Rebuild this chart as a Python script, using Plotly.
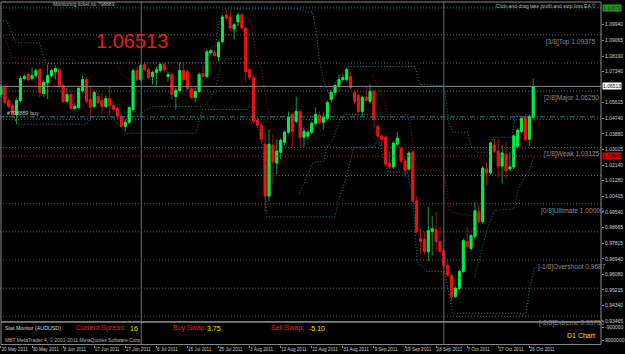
import plotly.graph_objects as go

# ---------------- data (AUDUSD daily) ----------------
opens = [1.0606,1.0645,1.0573,1.0545,1.0496,1.0573,1.0695,1.0717,1.0695,1.0711,
         1.0744,1.0612,1.0673,1.0711,1.0733,1.0744,1.0656,1.0568,1.0606,1.0529,
         1.0534,1.0628,1.0689,1.0579,1.0540,1.0595,1.0573,1.0540,1.0584,1.0545,
         1.0529,1.0485,1.0430,1.0452,1.0523,1.0739,1.0689,1.0772,1.0744,1.0706,
         1.0728,1.0739,1.0772,1.0706,1.0717,1.0595,1.0628,1.0739,1.0733,1.0640,
         1.0590,1.0623,1.0722,1.0706,1.0838,1.0838,1.0816,1.0899,1.1048,1.1037,
         1.0971,1.1009,1.1048,1.0976,1.0744,1.0700,1.0463,1.0435,1.0330,1.0043,
         1.0325,1.0226,1.0286,1.0341,1.0397,1.0496,1.0457,1.0512,1.0369,1.0375,
         1.0397,1.0446,1.0490,1.0452,1.0474,1.0579,1.0617,1.0656,1.0689,1.0689,
         1.0706,1.0617,1.0601,1.0512,1.0590,1.0568,1.0623,1.0430,1.0375,1.0369,
         1.0226,1.0204,1.0330,1.0308,1.0237,1.0193,1.0286,1.0016,0.9806,0.9801,
         0.9734,0.9845,0.9856,0.9790,0.9740,0.9657,0.9602,0.9486,0.9530,0.9624,
         0.9790,0.9751,0.9817,0.9955,0.9900,1.0193,1.0171,1.0325,1.0292,1.0209,
         1.0275,1.0193,1.0204,1.0319,1.0402,1.0479,1.0358,1.0479]
highs = [1.0662,1.0662,1.0584,1.0557,1.0584,1.0711,1.0717,1.0728,1.0755,1.0750,
         1.0750,1.0684,1.0772,1.0750,1.0767,1.0755,1.0667,1.0645,1.0634,1.0562,
         1.0651,1.0711,1.0700,1.0651,1.0628,1.0617,1.0617,1.0601,1.0651,1.0557,
         1.0540,1.0496,1.0468,1.0545,1.0750,1.0761,1.0778,1.0783,1.0755,1.0739,
         1.0761,1.0783,1.0783,1.0733,1.0728,1.0640,1.0783,1.0783,1.0744,1.0651,
         1.0645,1.0728,1.0772,1.0855,1.0860,1.0855,1.0905,1.1048,1.1076,1.1081,
         1.1004,1.1059,1.1059,1.0982,1.0755,1.0711,1.0474,1.0446,1.0397,1.0413,
         1.0386,1.0358,1.0364,1.0408,1.0512,1.0507,1.0595,1.0523,1.0424,1.0408,
         1.0457,1.0534,1.0512,1.0507,1.0573,1.0628,1.0667,1.0717,1.0722,1.0755,
         1.0728,1.0634,1.0612,1.0601,1.0651,1.0662,1.0634,1.0441,1.0386,1.0380,
         1.0292,1.0347,1.0397,1.0319,1.0264,1.0292,1.0297,1.0043,0.9861,0.9845,
         0.9983,0.9933,0.9955,0.9872,0.9751,0.9685,0.9613,0.9541,0.9635,0.9806,
         0.9872,0.9834,1.0010,0.9999,1.0209,1.0231,1.0347,1.0358,1.0358,1.0325,
         1.0341,1.0286,1.0386,1.0419,1.0485,1.0496,1.0496,1.0695]
lows = [1.0590,1.0551,1.0529,1.0485,1.0441,1.0562,1.0684,1.0678,1.0684,1.0700,
        1.0590,1.0595,1.0579,1.0700,1.0689,1.0640,1.0557,1.0557,1.0523,1.0518,
        1.0523,1.0617,1.0557,1.0479,1.0529,1.0551,1.0496,1.0529,1.0485,1.0512,
        1.0474,1.0424,1.0402,1.0441,1.0512,1.0678,1.0678,1.0733,1.0689,1.0662,
        1.0656,1.0728,1.0733,1.0678,1.0579,1.0523,1.0617,1.0678,1.0628,1.0579,
        1.0562,1.0612,1.0700,1.0695,1.0827,1.0816,1.0789,1.0888,1.1020,1.0960,
        1.0910,1.0982,1.0965,1.0678,1.0689,1.0446,1.0424,1.0341,0.9955,1.0016,
        1.0110,1.0165,1.0248,1.0325,1.0386,1.0314,1.0446,1.0314,1.0314,1.0358,
        1.0386,1.0430,1.0441,1.0413,1.0463,1.0562,1.0601,1.0645,1.0678,1.0678,
        1.0634,1.0557,1.0501,1.0485,1.0568,1.0557,1.0424,1.0364,1.0319,1.0204,
        1.0193,1.0193,1.0314,1.0226,1.0149,1.0182,1.0005,0.9834,0.9723,0.9718,
        0.9679,0.9712,0.9734,0.9729,0.9646,0.9591,0.9458,0.9475,0.9519,0.9613,
        0.9751,0.9740,0.9806,0.9889,0.9889,1.0099,1.0160,1.0281,1.0149,1.0110,
        1.0138,1.0182,1.0193,1.0308,1.0391,1.0347,1.0319,1.0468]
closes = [1.0645,1.0562,1.0540,1.0496,1.0573,1.0695,1.0706,1.0689,1.0711,1.0739,
          1.0617,1.0673,1.0711,1.0739,1.0750,1.0651,1.0568,1.0606,1.0529,1.0540,
          1.0640,1.0689,1.0568,1.0534,1.0617,1.0562,1.0540,1.0584,1.0545,1.0523,
          1.0485,1.0430,1.0452,1.0534,1.0739,1.0689,1.0767,1.0744,1.0700,1.0728,
          1.0744,1.0772,1.0744,1.0717,1.0606,1.0628,1.0739,1.0689,1.0640,1.0590,
          1.0623,1.0717,1.0706,1.0844,1.0849,1.0822,1.0893,1.1037,1.1031,1.0976,
          1.0993,1.1048,1.0976,1.0733,1.0700,1.0457,1.0435,1.0358,1.0043,1.0330,
          1.0231,1.0292,1.0352,1.0397,1.0479,1.0402,1.0512,1.0369,1.0402,1.0397,
          1.0446,1.0496,1.0452,1.0479,1.0562,1.0617,1.0656,1.0689,1.0700,1.0744,
          1.0645,1.0568,1.0512,1.0590,1.0573,1.0623,1.0468,1.0375,1.0358,1.0220,
          1.0204,1.0336,1.0364,1.0237,1.0187,1.0281,1.0016,0.9845,0.9790,0.9734,
          0.9850,0.9861,0.9790,0.9734,0.9657,0.9602,0.9486,0.9530,0.9624,0.9795,
          0.9762,0.9823,0.9961,0.9900,1.0198,1.0171,1.0336,1.0292,1.0209,1.0281,
          1.0182,1.0204,1.0375,1.0408,1.0474,1.0358,1.0485,1.0651]
bars = list(range(len(opens)))

date_labels = ["20 May 2011", "30 May 2011", "8 Jun 2011", "17 Jun 2011", "27 Jun 2011",
               "6 Jul 2011", "15 Jul 2011", "25 Jul 2011", "3 Aug 2011", "12 Aug 2011",
               "22 Aug 2011", "31 Aug 2011", "9 Sep 2011", "19 Sep 2011", "28 Sep 2011",
               "7 Oct 2011", "17 Oct 2011", "26 Oct 2011"]
bars_per_label = 8

price_ticks = [1.09940, 1.09065, 1.08190, 1.07340, 1.05615, 1.04740, 1.03880, 1.03015,
               1.02140, 1.01280, 1.00415, 0.99540, 0.98665, 0.97815, 0.96940, 0.96080,
               0.95215, 0.94340, 0.93465]

# channel / trailing indicators: (bar index, price); None splits segments
chan_up_x = [-0.25, 1.5, 3.8, 9.9, 11.5, 52.4, 53.7, 55.2, 56.2, 57.3, 77.4, 78.6, 80.2, 81.2,
             81.9, 83.2, 84.5, 85.8, 87.5, 89.3, 106.6, 107.9, 113.7, 114.2, 115.3, 116.3,
             120.1, 121.1, 122.4, 125.7, 126.5, 131.6, 132.3, 137.2]
chan_up_y = [1.1015, 1.1015, 1.0893, 1.0893, 1.0778, 1.0783, 1.0827, 1.0871, 1.1015, 1.1081,
             1.1081, 1.1065, 1.1065, 1.0949, 1.0800, 1.0673, 1.0606, 1.0662, 1.0717, 1.0761,
             1.0761, 1.0662, 1.0656, 1.0634, 1.0452, 1.0397, 1.0397, 1.0314, 1.0286, 1.0286,
             1.0369, 1.0369, 1.0485, 1.0485]
chan_lo_x = [-0.25, 3.3, 4.1, 22.1, 23.4, 28.5, 29.8, 32.3, 50.1, 51.1, 51.9, 63.4, 63.9, 65.4,
             66.4, 67.4, 67.9, 68.4, 86.0, 87.0, 88.8, 90.8, 95.9, 97.2, 98.5, 99.7, 104.6,
             106.1, 107.1, 109.7, 114.2, 115.5, 116.3, 135.1, 136.1, 137.4]
chan_lo_y = [1.0485, 1.0485, 1.0441, 1.0441, 1.0485, 1.0485, 1.0452, 1.0391, 1.0391, 1.0468,
             1.0523, 1.0523, 1.0551, 1.0496, 1.0397, 1.0330, 1.0099, 0.9927, 0.9927, 1.0027,
             1.0138, 1.0314, 1.0314, 1.0358, 1.0248, 1.0176, 1.0176, 1.0027, 0.9679, 0.9624,
             0.9624, 0.9475, 0.9392, 0.9392, 0.9530, 0.9651]
stop_dn_x = [-0.25, 1.0, 2.8, 10.7, 18.3, 20.1, 27.7, 29.8, 31.0, 33.3, None,
             62.8, 64.1, 64.9, 65.9, 66.9, 67.9, 68.7, 69.5, 76.1, None,
             95.7, 97.2, 98.5, 99.5, 104.8, 105.3, 106.1, 107.1, 113.7, 114.8, 115.5, 121.1, 121.9]
stop_dn_y = [1.0927, 1.0927, 1.0811, 1.0800, 1.0800, 1.0783, 1.0783, 1.0778, 1.0717, 1.0684, None,
             1.1031, 1.1020, 1.0927, 1.0800, 1.0761, 1.0634, 1.0523, 1.0485, 1.0485, None,
             1.0717, 1.0634, 1.0579, 1.0496, 1.0496, 1.0452, 1.0319, 1.0193, 1.0182, 1.0082,
             0.9955, 0.9933, 0.9916]
stop_up_x = [33.6, 35.4, 36.6, 39.2, 52.4, 53.7, 55.2, 56.5, 57.8, 62.1, None,
             76.8, 78.6, 80.4, 83.2, 83.7, 85.5, 87.0, 88.3, 94.7, None,
             121.9, 123.2, 125.2, 127.0, 132.1, 133.3, 134.1, 136.1, 137.2]
stop_up_y = [1.0485, 1.0485, 1.0512, 1.0540, 1.0540, 1.0579, 1.0634, 1.0761, 1.0805, 1.0805, None,
             1.0054, 1.0138, 1.0231, 1.0237, 1.0303, 1.0358, 1.0452, 1.0496, 1.0496, None,
             0.9591, 0.9696, 0.9861, 0.9961, 0.9972, 1.0099, 1.0121, 1.0193, 1.0264]

murrey_levels = [1.09375, 1.078125, 1.0625, 1.046875, 1.03125, 1.015625, 1.0,
                 0.984375, 0.96875, 0.953125, 0.9375]
murrey_labels = {1.09375: "[3/8]Top 1.09375", 1.0625: "[2/8]Major 1.06250",
                 1.03125: "[1/8]Weak 1.03125", 1.0: "[0/8]Ultimate 1.00000",
                 0.96875: "[-1/8]Overshoot 0.9687", 0.9375: "[-2/8]Extreme 0.93750"}
current_price = 1.06513
take_profit = 1.1087
stop_loss = 1.0264
buy_price = 1.0482
marker_bars = [36.1, 114.0]

# ---------------- figure ----------------
W, H = 625, 354
PLOT_W = 608
FONT = "Liberation Sans"

def px(xp):
    return xp / PLOT_W

def py(yp):
    return (H - yp) / H

fig = go.Figure()

# wicks (darker shade) then bodies on top
fig.add_trace(go.Candlestick(
    x=bars, open=opens, high=highs, low=lows, close=closes,
    increasing=dict(line=dict(color="#129a3c", width=1), fillcolor="#129a3c"),
    decreasing=dict(line=dict(color="#a31212", width=1), fillcolor="#a31212"),
    whiskerwidth=0, hoverinfo="skip", xaxis="x", yaxis="y"))
body_top = [max(o, c) for o, c in zip(opens, closes)]
body_bot = [min(o, c) for o, c in zip(opens, closes)]
fig.add_trace(go.Candlestick(
    x=bars, open=opens, high=body_top, low=body_bot, close=closes,
    increasing=dict(line=dict(color="#00ee44", width=1), fillcolor="#00ee44"),
    decreasing=dict(line=dict(color="#ee1111", width=1), fillcolor="#ee1111"),
    whiskerwidth=0, hoverinfo="skip", xaxis="x", yaxis="y"))

dot = "1px,2px"
fig.add_trace(go.Scatter(x=chan_up_x, y=chan_up_y, mode="lines",
                         line=dict(color="#1f8290", width=1, dash=dot), hoverinfo="skip"))
fig.add_trace(go.Scatter(x=chan_lo_x, y=chan_lo_y, mode="lines",
                         line=dict(color="#1f8290", width=1, dash=dot), hoverinfo="skip"))
fig.add_trace(go.Scatter(x=stop_dn_x, y=stop_dn_y, mode="lines", connectgaps=False,
                         line=dict(color="#9a1a1a", width=1, dash=dot), hoverinfo="skip"))
fig.add_trace(go.Scatter(x=stop_up_x, y=stop_up_y, mode="lines", connectgaps=False,
                         line=dict(color="#1c8a1c", width=1, dash=dot), hoverinfo="skip"))
# invisible trace that makes the sub-window exist
fig.add_trace(go.Scatter(x=[0], y=[0.5], mode="markers", marker=dict(opacity=0),
                         hoverinfo="skip", yaxis="y2"))

shapes = []
for lv in murrey_levels:
    col = "#2a7a86" if lv == 1.0625 else "#5e5e5e"
    shapes.append(dict(type="line", xref="paper", yref="y", x0=0, x1=1, y0=lv, y1=lv,
                       line=dict(color=col, width=1, dash=dot), layer="below"))
shapes.append(dict(type="line", xref="paper", yref="y", x0=0, x1=1, y0=take_profit, y1=take_profit,
                   line=dict(color="#1f8290", width=1, dash=dot)))
shapes.append(dict(type="line", xref="paper", yref="y", x0=0, x1=1, y0=current_price, y1=current_price,
                   line=dict(color="#8c8c8c", width=1)))
shapes.append(dict(type="line", xref="paper", yref="y", x0=0, x1=1, y0=buy_price, y1=buy_price,
                   line=dict(color="#2a8a96", width=1, dash="5px,2px,1px,2px")))
shapes.append(dict(type="line", xref="paper", yref="y", x0=0, x1=1, y0=stop_loss, y1=stop_loss,
                   line=dict(color="#b02020", width=1, dash=dot)))
for b in marker_bars:
    shapes.append(dict(type="line", xref="x", yref="paper", x0=b, x1=b, y0=py(346.5), y1=py(2),
                       line=dict(color="#6a6a6a", width=1)))
# frames of main chart and sub-window
shapes.append(dict(type="rect", xref="paper", yref="paper", x0=px(1), x1=1, y0=py(323.5), y1=py(2),
                   line=dict(color="#8a8a8a", width=1)))
shapes.append(dict(type="rect", xref="paper", yref="paper", x0=px(1), x1=1, y0=py(346.5), y1=py(324),
                   line=dict(color="#8a8a8a", width=1)))

ann = []
lab_left = {1.09375: 550, 1.0625: 548, 1.03125: 548, 1.0: 545, 0.96875: 542, 0.9375: 543}
for lv, txt in murrey_labels.items():
    ann.append(dict(text=txt, xref="paper", yref="y", x=px(lab_left[lv]), y=lv, xanchor="left",
                    yanchor="top", yshift=-1, showarrow=False,
                    font=dict(family=FONT, size=6.6, color="#8c8c8c")))
ann.append(dict(text="1.06513", xref="paper", yref="paper", x=px(134), y=py(41), showarrow=False,
                xanchor="center", yanchor="middle",
                font=dict(family=FONT, size=20, color="#e01c1c")))
ann.append(dict(text="Monitoring ticket no 798889", xref="paper", yref="paper", x=px(52), y=py(4.5),
                xanchor="left", yanchor="middle", showarrow=False,
                font=dict(family=FONT, size=5, color="#b4b4b4")))
ann.append(dict(text="Click-and-drag take profit and stop loss EA ©", xref="paper", yref="paper",
                x=px(605), y=py(6), xanchor="right", yanchor="middle", showarrow=False,
                font=dict(family=FONT, size=5, color="#b4b4b4")))
ann.append(dict(text="#798889 buy", xref="paper", yref="y", x=px(5), y=buy_price, xanchor="left",
                yanchor="bottom", yshift=-1, showarrow=False,
                font=dict(family=FONT, size=5.5, color="#c0c0c0")))
# price boxes on the right axis
for val, bg, fg in [(take_profit, "#22a022", "#003300"), (current_price, "#ffffff", "#000000"),
                    (stop_loss, "#dd0000", "#000000")]:
    ann.append(dict(text=f"{val:.5f}", xref="paper", yref="y", x=1, y=val, xanchor="left",
                    yanchor="middle", xshift=1, showarrow=False, bgcolor=bg, borderpad=0,
                    font=dict(family=FONT, size=5, color=fg)))
# sub-window texts
sub = [("Stat Monitor (AUDUSD)", 3, 330, 5.3, "#d8d8d8"),
       ("Current Spread:", 75, 330, 7, "#e02020"), ("16", 129, 330, 7, "#e8e800"),
       ("Buy Swap:", 173, 330, 7, "#e02020"), ("3.75", 207, 330, 7, "#e8e800"),
       ("Sell Swap:", 272, 330, 7, "#e02020"), ("-5.10", 311, 330, 7, "#e8e800"),
       ("D1 Chart", 572, 337, 7, "#e8e800"),
       ("MBT MetaTrader 4, © 2001-2011 MetaQuotes Software Corp.", 3, 342, 5, "#b0b0b0")]
for t, x, y, s, c in sub:
    ann.append(dict(text=t, xref="paper", yref="paper", x=px(x), y=py(y), xanchor="left",
                    yanchor="middle", showarrow=False, font=dict(family=FONT, size=s, color=c)))

fig.update_layout(
    width=W, height=H, margin=dict(l=0, r=W - PLOT_W, t=0, b=0),
    paper_bgcolor="#000000", plot_bgcolor="#000000", showlegend=False,
    shapes=shapes, annotations=ann, hovermode=False,
    xaxis=dict(range=[-0.254, 154.45], anchor="y2", showgrid=False, zeroline=False,
               rangeslider=dict(visible=False), showline=False, tickangle=0,
               tickvals=[k * bars_per_label for k in range(len(date_labels))], ticktext=date_labels,
               ticks="outside", ticklen=2, tickcolor="#8a8a8a", ticklabelposition="outside right",
               tickfont=dict(family=FONT, size=4.6, color="#c8c8c8")),
    yaxis=dict(domain=[py(323.5), py(2)], range=[0.93451, 1.11198], side="right", anchor="x",
               showgrid=False, zeroline=False, tickvals=price_ticks,
               ticktext=[f"{v:.5f}" for v in price_ticks], ticks="outside", ticklen=2,
               tickcolor="#8a8a8a", tickfont=dict(family=FONT, size=5, color="#d0d0d0")),
    yaxis2=dict(domain=[py(346.5), py(324)], range=[0, 1], side="right", anchor="x",
                showgrid=False, zeroline=False, tickvals=[0.78, 0.2],
                ticktext=["-900000", "9000000"], ticks="outside", ticklen=2, tickcolor="#8a8a8a",
                tickfont=dict(family=FONT, size=5, color="#d0d0d0")),
)

fig.write_html("out.html")
